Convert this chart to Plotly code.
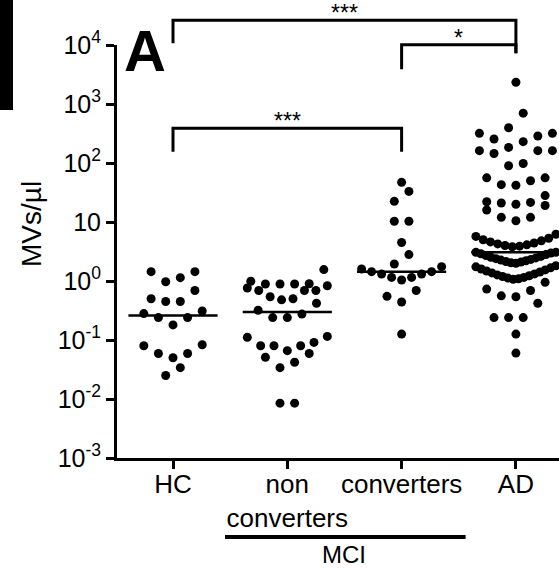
import numpy as np
import plotly.graph_objects as go

# ---------------- data ----------------
groups = ["HC", "non<br>converters", "converters", "AD"]

hc = [0.025, 0.034, 0.050, 0.059, 0.059, 0.080, 0.083, 0.18, 0.24, 0.24,
      0.28, 0.31, 0.45, 0.45, 0.50, 0.69, 0.97, 1.14, 1.44, 1.44]

non_converters = [0.0085, 0.0085, 0.034, 0.042, 0.051, 0.059, 0.066, 0.080,
                  0.080, 0.080, 0.091, 0.111, 0.115, 0.24, 0.24, 0.275, 0.32,
                  0.42, 0.48, 0.50, 0.54, 0.69, 0.69, 0.69, 0.76, 0.83, 0.89,
                  0.89, 0.89, 0.90, 0.99, 1.56]

converters = [0.126, 0.44, 0.55, 0.69, 1.04, 1.15, 1.15, 1.31, 1.31, 1.44,
              1.44, 1.6, 1.75, 1.94, 2.8, 4.5, 10.3, 10.3, 22.4, 33, 47]

ad = [0.060, 0.126, 0.24, 0.24, 0.24, 0.42, 0.54, 0.56, 0.69, 0.73, 0.95,
      1.07, 1.09, 1.12, 1.15, 1.19, 1.23, 1.27, 1.32, 1.37, 1.42, 1.48, 1.54,
      1.60, 1.67, 1.74, 1.82,
      2.0, 2.04, 2.09, 2.14, 2.2, 2.26, 2.32, 2.39, 2.46, 2.53, 2.61, 2.7,
      2.8, 2.9, 2.98, 3.06, 3.06,
      3.8, 3.9, 4.0, 4.1, 4.25, 4.4, 4.6, 4.8, 5.0, 5.3, 5.7, 6.2,
      10.5, 12, 12, 16, 19, 20, 21, 21.5, 22, 28, 42, 43, 50, 56, 56,
      90, 98, 145, 162, 162, 162, 184, 230, 255, 287, 318, 318, 395, 700,
      2340]

y_tick_vals = [1e-3, 1e-2, 1e-1, 1e0, 1e1, 1e2, 1e3, 1e4]
y_tick_text = ["10<sup>-3</sup>", "10<sup>-2</sup>", "10<sup>-1</sup>",
               "10<sup>0</sup>", "10", "10<sup>2</sup>", "10<sup>3</sup>",
               "10<sup>4</sup>"]

# significance brackets: (left group, right group, bar level, left foot, right foot, label)
# levels are log10 of the data-space height
brackets = [
    (0, 3, 4.42, 4.03, 3.86, "***"),
    (2, 3, 4.005, 3.59, 3.86, "*"),
    (0, 2, 2.59, 2.19, 2.19, "***"),
]

# ---------------- layout geometry ----------------
W, H = 559, 569
ML, MR, MT, MB = 117, 0, 45, 111
PW, PH = W - ML - MR, H - MT - MB
XMIN, XMAX = -0.49, 3.377
YMIN, YMAX = -3, 4
UNIT_PX = PW / (XMAX - XMIN)      # pixels per category step
DEC_PX = PH / (YMAX - YMIN)       # pixels per decade

FONT = "Liberation Sans, Arial, Helvetica, sans-serif"


def swarm(values, slot_px=14.6, row_dec=0.26, half_width_px=40):
    """Column-scatter layout: bin values into rows, spread each row
    symmetrically about the centre, smallest value in the middle."""
    vals = np.sort(np.asarray(values, dtype=float))
    logs = np.log10(vals)
    xs, ys = [], []
    i = 0
    while i < len(vals):
        j = i
        while j < len(vals) and logs[j] - logs[i] <= row_dec + 1e-9:
            j += 1
        row = vals[i:j]
        n = len(row)
        step = slot_px if (n - 1) * slot_px <= 2 * half_width_px else 2 * half_width_px / (n - 1)
        if n % 2:
            order = [0] + [s * k for k in range(1, n // 2 + 1) for s in (-1, 1)]
        else:
            order = [s * (k - 0.5) for k in range(1, n // 2 + 1) for s in (-1, 1)]
        for v, k in zip(row, order):
            xs.append(k * step / UNIT_PX)
            ys.append(v)
        i = j
    return np.array(xs), np.array(ys)


def lvl_to_paper(level):
    return (level - YMIN) / (YMAX - YMIN)


def px_x(px):
    return (px - ML) / PW


def px_y(py):
    return (H - MB - py) / PH


fig = go.Figure()

series = [hc, non_converters, converters, ad]
for gi, vals in enumerate(series):
    dx, yv = swarm(vals)
    fig.add_trace(go.Scatter(
        x=gi + dx, y=yv, mode="markers",
        marker=dict(color="black", size=9, line=dict(width=0)),
        showlegend=False, hoverinfo="y"))
    med = float(np.median(vals))
    fig.add_trace(go.Scatter(
        x=[gi - 0.39, gi + 0.39], y=[med, med], mode="lines",
        line=dict(color="black", width=2.5),
        showlegend=False, hoverinfo="skip"))

shapes = []
annotations = []
for a, b, top, lf, rf, label in brackets:
    shapes.append(dict(
        type="path", xref="x", yref="paper",
        path=f"M {a},{lvl_to_paper(lf)} L {a},{lvl_to_paper(top)} "
             f"L {b},{lvl_to_paper(top)} L {b},{lvl_to_paper(rf)}",
        line=dict(color="black", width=3)))
    annotations.append(dict(
        x=(a + b) / 2, y=lvl_to_paper(top), xref="x", yref="paper",
        text=label, showarrow=False, xanchor="center", yanchor="middle",
        yshift=7, font=dict(family=FONT, size=23, color="black")))

# MCI grouping bar under the two MCI columns
shapes.append(dict(type="line", xref="x", yref="paper",
                   x0=0.455, x1=2.56, y0=px_y(537), y1=px_y(537),
                   line=dict(color="black", width=4)))
annotations.append(dict(x=1.5, y=px_y(554), xref="x", yref="paper",
                        text="MCI", showarrow=False, xanchor="center",
                        yanchor="middle",
                        font=dict(family=FONT, size=24, color="black")))

# panel tab and panel letter
shapes.append(dict(type="rect", xref="paper", yref="paper",
                   x0=px_x(0), x1=px_x(13), y0=px_y(110), y1=px_y(-2),
                   fillcolor="black", line=dict(width=0)))
annotations.append(dict(x=px_x(145), y=px_y(50), xref="paper", yref="paper",
                        text="<b>A</b>", showarrow=False, xanchor="center",
                        yanchor="middle",
                        font=dict(family=FONT, size=58, color="black")))

# y-axis title
annotations.append(dict(x=px_x(31), y=px_y(224), xref="paper", yref="paper",
                        text="MVs/µl", textangle=-90, showarrow=False,
                        xanchor="center", yanchor="middle",
                        font=dict(family=FONT, size=28, color="black")))

fig.update_layout(
    width=W, height=H,
    margin=dict(l=ML, r=MR, t=MT, b=MB, pad=0),
    paper_bgcolor="white", plot_bgcolor="white",
    font=dict(family=FONT, color="black"),
    shapes=shapes, annotations=annotations,
    xaxis=dict(
        range=[XMIN, XMAX], tickvals=list(range(len(groups))), ticktext=groups,
        showline=True, linecolor="black", linewidth=3,
        ticks="outside", ticklen=8, tickwidth=3, tickcolor="black",
        ticklabelstandoff=-7, tickangle=0, automargin=False,
        showgrid=False, zeroline=False, tickfont=dict(family=FONT, size=26),
        fixedrange=True),
    yaxis=dict(
        type="log", range=[YMIN, YMAX], tickvals=y_tick_vals, ticktext=y_tick_text,
        showline=True, linecolor="black", linewidth=3, automargin=False,
        ticks="outside", ticklen=8, tickwidth=3, tickcolor="black",
        showgrid=False, zeroline=False, tickfont=dict(family=FONT, size=25),
        fixedrange=True),
)

fig.write_html("out.html")
